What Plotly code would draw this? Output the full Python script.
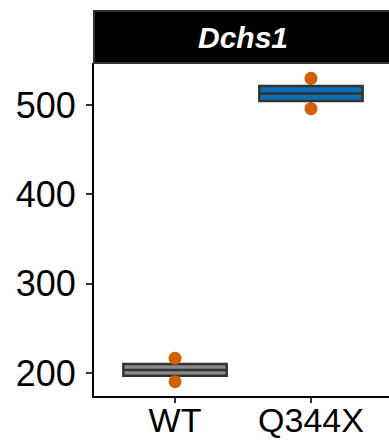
import numpy as np
import plotly.graph_objects as go

categories = ["WT", "Q344X"]
wt_values = [216.8, 190.6]
q344x_values = [529.9, 495.9]
box_fills = ["#8a8a8a", "#0a6fb0"]
point_color = "#D55E00"
panel_title = "Dchs1"
y_ticks = [200, 300, 400, 500]

fig = go.Figure()
for cat, vals, fill in zip(categories, [wt_values, q344x_values], box_fills):
    q1, med, q3 = np.percentile(vals, [25, 50, 75])
    fig.add_trace(go.Box(
        x=[cat], q1=[q1], median=[med], q3=[q3],
        lowerfence=[min(vals)], upperfence=[max(vals)],
        fillcolor=fill,
        line=dict(color="#333333", width=2.5),
        whiskerwidth=0, width=0.76,
        showlegend=False, hoverinfo="skip",
    ))
    fig.add_trace(go.Scatter(
        x=[cat] * len(vals), y=vals, mode="markers",
        marker=dict(color=point_color, size=13, line=dict(width=0)),
        showlegend=False, hoverinfo="skip",
    ))

font_family = "Liberation Sans, Arial, sans-serif"
fig.update_layout(
    width=389, height=441,
    margin=dict(l=94, r=0, t=63, b=45, autoexpand=False),
    paper_bgcolor="white", plot_bgcolor="white",
    font=dict(family=font_family, color="black"),
    xaxis=dict(
        type="category", categoryorder="array", categoryarray=categories,
        range=[-0.596, 1.574], showgrid=False, zeroline=False, automargin=False,
        showline=True, linecolor="black", linewidth=2,
        ticks="outside", ticklen=5, tickwidth=1.5, tickcolor="#333333",
        ticklabelstandoff=-12,
        tickfont=dict(size=34, color="black", family=font_family),
    ),
    yaxis=dict(
        range=[174.6, 547], tickvals=y_ticks, showgrid=False, zeroline=False,
        automargin=False,
        showline=True, linecolor="black", linewidth=2,
        ticks="outside", ticklen=6, tickwidth=1.5, tickcolor="#333333",
        ticklabelstandoff=3,
        tickfont=dict(size=36, color="black", family=font_family),
    ),
    shapes=[dict(
        type="rect", xref="paper", yref="paper",
        x0=0, x1=1.02, y0=1.0, y1=1.156,
        fillcolor="black", line=dict(color="#333333", width=2), layer="above",
    )],
    annotations=[dict(
        text="<b><i>" + panel_title + "</i></b>", xref="x", yref="paper",
        x=0.5, y=1.078, showarrow=False, yanchor="middle",
        font=dict(size=30, color="white", family=font_family),
    )],
)

fig.write_html("out.html", config={"displayModeBar": False},
               post_script="document.body.style.margin='0';document.body.style.overflow='hidden';")
